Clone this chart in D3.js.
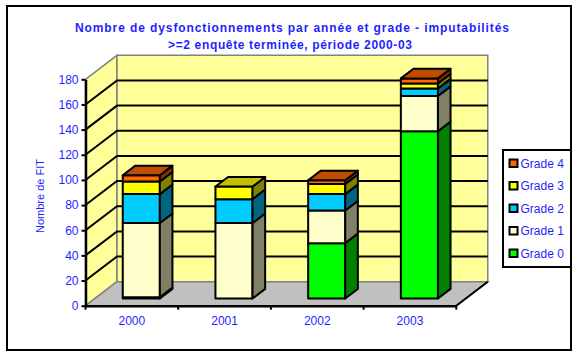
<!DOCTYPE html>
<html>
<head>
<meta charset="utf-8">
<script src="https://cdn.jsdelivr.net/npm/d3@7"></script>
<style>
  html, body { margin: 0; padding: 0; background: #ffffff; }
  svg { display: block; font-family: Arial, "Liberation Sans", sans-serif; }
</style>
</head>
<body>
<svg id="chart" width="578" height="354"></svg>
<script>
// Data: yearly count of malfunctions by grade
const years = ["2000", "2001", "2002", "2003"];
const grades = ["Grade 0", "Grade 1", "Grade 2", "Grade 3", "Grade 4"];
const grade0 = [1, 0, 44, 133];
const grade1 = [59, 60, 26, 28];
const grade2 = [23, 19, 13, 6];
const grade3 = [10, 10, 8, 4];
const grade4 = [5, 0, 3, 4];
const yTicks = [0, 20, 40, 60, 80, 100, 120, 140, 160, 180];
const titleLines = [
  "Nombre de dysfonctionnements par année et grade - imputabilités",
  ">=2 enquête terminée, période 2000-03"
];
const yTitle = "Nombre de FIT";

// Face colours per grade: front, side (darker), top (mid)
const palette = {
  "Grade 0": { front: "#00FF00", side: "#008000", top: "#00C000" },
  "Grade 1": { front: "#FFFFCC", side: "#808066", top: "#C0C099" },
  "Grade 2": { front: "#00CCFF", side: "#006680", top: "#0099C0" },
  "Grade 3": { front: "#FFFF00", side: "#808000", top: "#C0C000" },
  "Grade 4": { front: "#FF6600", side: "#803300", top: "#C04C00" }
};
const textBlue = "#1F1FFF";

const rows = years.map((yr, i) => ({
  year: yr,
  "Grade 0": grade0[i], "Grade 1": grade1[i], "Grade 2": grade2[i],
  "Grade 3": grade3[i], "Grade 4": grade4[i]
}));

const svg = d3.select("#chart");

// Plot geometry (front plane) and depth offset of the 3D box
const x = d3.scaleBand().domain(years).range([85.5, 456.3]).paddingInner(0).paddingOuter(0);
const y = d3.scaleLinear().domain([0, 180]).range([305.7, 79.3]);
const DX = 31.5, DY = 24;
const xL = x.range()[0], xR = x.range()[1];

// Project (front-plane x, value, depth fraction) to screen
const P = (xf, v, d) => [xf + d * DX, y(v) - d * DY];
const poly = pts => "M" + pts.map(p => p.join(",")).join("L") + "Z";

// Chart frame
svg.append("rect").attr("x", 7).attr("y", 6).attr("width", 564).attr("height", 344)
  .attr("fill", "#ffffff").attr("stroke", "#000").attr("stroke-width", 2);

// Title (two centred lines, spread to their full width)
const title = svg.append("text").attr("text-anchor", "middle")
  .attr("font-size", 12).attr("font-weight", "bold").attr("fill", textBlue);
title.append("tspan").attr("x", 292).attr("y", 32)
  .attr("textLength", 434).attr("lengthAdjust", "spacing").text(titleLines[0]);
title.append("tspan").attr("x", 290).attr("y", 49)
  .attr("textLength", 244).attr("lengthAdjust", "spacing").text(titleLines[1]);

// Side wall
svg.append("path")
  .attr("d", poly([P(xL, 0, 0), P(xL, 180, 0), P(xL, 180, 1), P(xL, 0, 1)]))
  .attr("fill", "#FFFF99").attr("stroke", "#808080").attr("stroke-width", 1.5);
// Back wall
svg.append("path")
  .attr("d", poly([P(xL, 0, 1), P(xL, 180, 1), P(xR, 180, 1), P(xR, 0, 1)]))
  .attr("fill", "#FFFF99").attr("stroke", "#808080").attr("stroke-width", 1.5);
// Floor
svg.append("path")
  .attr("d", poly([P(xL, 0, 0), P(xR, 0, 0), P(xR, 0, 1), P(xL, 0, 1)]))
  .attr("fill", "#C0C0C0").attr("stroke", "#808080").attr("stroke-width", 1.5);
svg.append("path")
  .attr("d", "M" + P(xR, 0, 0).join(",") + "L" + P(xR, 0, 1).join(","))
  .attr("stroke", "#000").attr("stroke-width", 2).attr("fill", "none");

// Gridlines: diagonal across the side wall, then along the back wall
const grid = yTicks.filter(v => v > 0 && v < 180);
svg.append("g").selectAll("path").data(grid).join("path")
  .attr("d", v => "M" + P(xL, v, 0).join(",") + "L" + P(xL, v, 1).join(",") + "L" + P(xR, v, 1).join(","))
  .attr("fill", "none").attr("stroke", "#000").attr("stroke-width", 2);

// Value axis
const yAxis = svg.append("g").attr("transform", `translate(${xL},0)`)
  .call(d3.axisLeft(y).tickValues(yTicks).tickSize(4).tickPadding(3).tickSizeOuter(0));
yAxis.select(".domain").attr("stroke", "#000").attr("stroke-width", 2.5);
yAxis.selectAll(".tick line").attr("stroke", "#000").attr("stroke-width", 2);
yAxis.selectAll(".tick text").attr("fill", textBlue).attr("font-size", 12)
  .attr("font-family", "Arial, 'Liberation Sans', sans-serif");

// Category axis: labels centred, tick marks at category boundaries
const xAxis = svg.append("g").attr("transform", `translate(0,${y(0)})`)
  .call(d3.axisBottom(x).tickSize(0).tickPadding(11).tickSizeOuter(0));
xAxis.select(".domain").attr("stroke", "#000").attr("stroke-width", 2.5);
xAxis.selectAll(".tick text").attr("fill", textBlue).attr("font-size", 12)
  .attr("font-family", "Arial, 'Liberation Sans', sans-serif");
const bounds = years.map(d => x(d)).concat([xR]);
svg.append("g").selectAll("line").data(bounds).join("line")
  .attr("x1", d => d).attr("x2", d => d)
  .attr("y1", y(0)).attr("y2", y(0) + 4)
  .attr("stroke", "#000").attr("stroke-width", 2);

// Value-axis title
svg.append("text")
  .attr("transform", `translate(44,196) rotate(-90)`)
  .attr("text-anchor", "middle").attr("font-size", 11).attr("fill", textBlue)
  .text(yTitle);

// Stacked 3D columns
const series = d3.stack().keys(grades)(rows);
const bw = x.bandwidth();
const d0 = 0.3, d1 = 0.7;
const barsG = svg.append("g");
years.forEach((yr, i) => {
  const xa = x(yr) + 0.3 * bw, xb = x(yr) + 0.7 * bw;
  const segs = series.map(s => ({ key: s.key, v0: s[i][0], v1: s[i][1] }))
    .filter(s => s.v1 > s.v0);
  segs.forEach((s, k) => {
    const c = palette[s.key];
    const g = barsG.append("g").attr("stroke", "#000").attr("stroke-width", 2)
      .attr("stroke-linejoin", "round");
    g.append("path").attr("fill", c.front)
      .attr("d", poly([P(xa, s.v0, d0), P(xb, s.v0, d0), P(xb, s.v1, d0), P(xa, s.v1, d0)]));
    g.append("path").attr("fill", c.side)
      .attr("d", poly([P(xb, s.v0, d0), P(xb, s.v0, d1), P(xb, s.v1, d1), P(xb, s.v1, d0)]));
    if (k === segs.length - 1) {
      g.append("path").attr("fill", c.top)
        .attr("d", poly([P(xa, s.v1, d0), P(xb, s.v1, d0), P(xb, s.v1, d1), P(xa, s.v1, d1)]));
    }
  });
});

// Legend
const legend = svg.append("g");
legend.append("rect").attr("x", 503).attr("y", 150).attr("width", 68).attr("height", 117)
  .attr("fill", "#ffffff").attr("stroke", "#000").attr("stroke-width", 2);
const legendItems = grades.slice().reverse();
const li = legend.selectAll("g.item").data(legendItems).join("g")
  .attr("class", "item")
  .attr("transform", (d, i) => `translate(0,${163.3 + i * 22.5})`);
li.append("rect").attr("x", 509.5).attr("y", -3.8).attr("width", 8).attr("height", 7.5)
  .attr("fill", d => palette[d].front).attr("stroke", "#000").attr("stroke-width", 2);
li.append("text").attr("x", 520.5).attr("y", 4.3).attr("font-size", 12)
  .attr("fill", textBlue).text(d => d);
</script>
</body>
</html>
